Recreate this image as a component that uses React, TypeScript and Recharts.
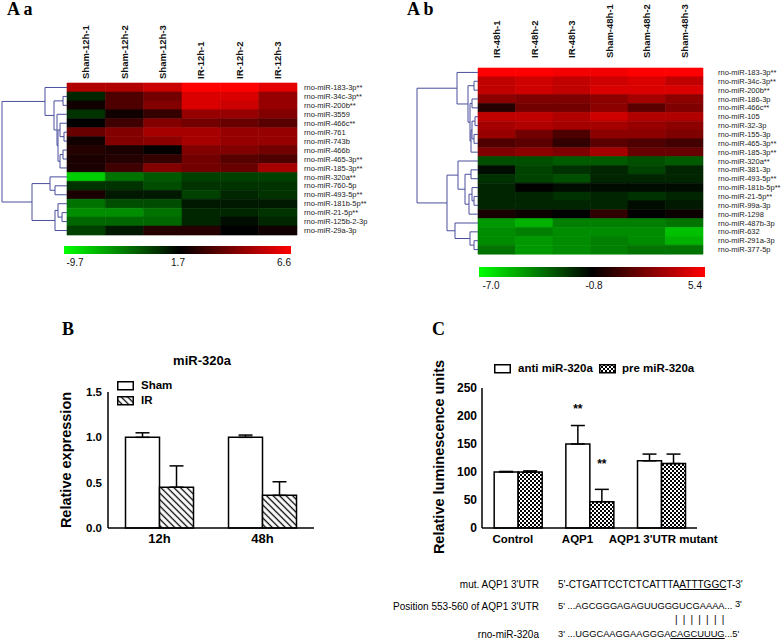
import React from 'react';
import { BarChart, Bar, XAxis, YAxis, Cell, ScatterChart, Scatter, ReferenceLine, ErrorBar, LabelList } from 'recharts';

const SANS = '"Liberation Sans", Arial, Helvetica, sans-serif';
const SERIF = '"Liberation Serif", "Times New Roman", serif';

// ---------------- Panel A a (12 h heatmap) ----------------
const aaColumns = ['Sham-12h-1', 'Sham-12h-2', 'Sham-12h-3', 'IR-12h-1', 'IR-12h-2', 'IR-12h-3'];
const aaRows = [
  'rno-miR-183-3p**', 'rno-miR-34c-3p**', 'rno-miR-200b**', 'rno-miR-3559', 'rno-miR-466c**',
  'rno-miR-761', 'rno-miR-743b', 'rno-miR-466b', 'rno-miR-465-3p**', 'rno-miR-185-3p**',
  'rno-miR-320a**', 'rno-miR-760-5p', 'rno-miR-493-5p**', 'rno-miR-181b-5p**', 'rno-miR-21-5p**',
  'rno-miR-125b-2-3p', 'rno-miR-29a-3p',
];
const aaValues = [
  [5.1, 5.1, 5.6, 6.6, 6.6, 6.1],
  [0.0, 3.2, 3.9, 5.9, 5.9, 4.6],
  [2.0, 3.2, 4.2, 5.9, 5.6, 4.6],
  [-0.6, 2.0, 2.7, 4.6, 4.6, 4.2],
  [1.7, 2.9, 4.2, 3.9, 3.7, 3.4],
  [3.7, 4.2, 4.9, 4.9, 4.6, 4.6],
  [2.0, 4.2, 4.4, 4.9, 4.6, 4.6],
  [2.4, 2.2, 1.8, 4.2, 4.2, 3.9],
  [2.2, 2.4, 2.7, 3.9, 3.4, 3.2],
  [2.2, 2.9, 4.2, 3.9, 3.7, 4.9],
  [-7.5, -3.4, -2.3, -1.2, -1.2, -1.2],
  [-0.6, -0.6, -1.7, -0.6, -0.6, -0.6],
  [2.2, 0.6, 0.6, -1.2, 0.0, -0.6],
  [-3.4, -1.7, -1.7, 0.6, 0.6, 0.6],
  [-4.6, -4.6, -3.4, 0.0, 0.0, -0.6],
  [-2.9, -2.9, -2.9, 0.0, 1.1, 0.0],
  [-1.2, 0.6, 2.4, 2.4, 1.7, 2.0],
];
const aaScale = [-9.7, 1.7, 6.6];
// [childA, childB, distance]; leaves 0..16, merged nodes numbered from 17
const aaLinkage = [
  [1, 2, 4], [5, 6, 3], [7, 8, 4], [4, 18, 7], [19, 9, 7], [20, 21, 9], [3, 22, 10],
  [17, 23, 13], [0, 24, 22],
  [11, 12, 12], [10, 26, 17], [14, 15, 5], [13, 28, 9], [29, 16, 12], [27, 30, 35],
  [25, 31, 65],
];

// ---------------- Panel A b (48 h heatmap) ----------------
const abColumns = ['IR-48h-1', 'IR-48h-2', 'IR-48h-3', 'Sham-48h-1', 'Sham-48h-2', 'Sham-48h-3'];
const abRows = [
  'rno-miR-183-3p**', 'rno-miR-34c-3p**', 'rno-miR-200b**', 'rno-miR-186-3p', 'rno-miR-466c**',
  'rno-miR-105', 'rno-miR-32-3p', 'rno-miR-155-3p', 'rno-miR-465-3p**', 'rno-miR-185-3p**',
  'rno-miR-320a**', 'rno-miR-381-3p', 'rno-miR-493-5p**', 'rno-miR-181b-5p**', 'rno-miR-21-5p**',
  'rno-miR-99a-3p', 'rno-miR-1298', 'rno-miR-487b-3p', 'rno-miR-632', 'rno-miR-291a-3p', 'rno-miR-377-5p',
];
const abValues = [
  [5.4, 5.4, 5.1, 5.1, 5.4, 5.4],
  [3.9, 4.2, 3.9, 4.2, 4.5, 3.9],
  [3.9, 4.2, 3.9, 4.5, 4.5, 4.5],
  [2.6, 2.3, 2.3, 2.6, 3.2, 2.6],
  [0.1, 2.0, 2.0, 2.6, 1.4, 2.3],
  [3.9, 3.9, 3.5, 4.2, 3.5, 3.5],
  [3.2, 3.5, 3.2, 3.2, 2.9, 2.6],
  [2.9, 2.0, 1.1, 2.6, 2.6, 2.3],
  [1.1, 1.4, 0.4, 1.4, 1.1, 0.8],
  [2.3, 2.6, 2.3, 3.2, 1.7, 1.7],
  [-2.7, -2.7, -3.0, -3.0, -2.7, -3.0],
  [-1.1, -2.4, -2.0, -1.7, -2.4, -1.7],
  [-2.0, -2.4, -2.7, -1.7, -1.7, -1.7],
  [-1.7, -0.8, -1.1, -1.1, -1.1, -1.1],
  [-1.7, -1.7, -2.0, -1.7, -2.0, -1.7],
  [-1.7, -1.7, -1.7, -1.7, -1.1, -1.4],
  [-0.2, -0.5, -0.8, 0.4, -0.8, -0.5],
  [-4.5, -5.1, -3.9, -3.9, -3.9, -3.6],
  [-4.2, -3.9, -4.2, -4.2, -4.2, -5.5],
  [-4.2, -4.5, -4.2, -3.9, -4.2, -5.1],
  [-3.6, -4.5, -4.2, -3.9, -3.6, -3.6],
];
const abScale = [-7.0, -0.8, 5.4];
// leaves 0..20, merged nodes numbered from 21
const abLinkage = [
  [1, 2, 4], [5, 6, 3], [7, 8, 4], [3, 4, 6], [22, 23, 6], [25, 9, 7], [24, 26, 8],
  [21, 27, 10], [0, 28, 21],
  [14, 15, 4], [13, 30, 6], [31, 16, 9], [11, 12, 7], [33, 32, 13], [10, 34, 20],
  [19, 20, 4], [18, 36, 8], [17, 37, 23], [35, 38, 31],
  [29, 39, 61],
];

// ---------------- Panel B ----------------
const bCategories = ['12h', '48h'];
const bSham = [1.0, 1.0];
const bShamErr = [0.05, 0.025];
const bIR = [0.45, 0.36];
const bIRErr = [0.235, 0.15];
const bTicks = [0, 0.5, 1.0, 1.5];

// ---------------- Panel C ----------------
const cCategories = ['Control', 'AQP1', "AQP1 3'UTR mutant"];
const cAnti = [100, 150, 120];
const cAntiErr = [1, 33, 12];
const cPre = [100, 47, 115];
const cPreErr = [2, 22, 17];
const cAntiSig = ['', '**', ''];
const cPreSig = ['', '**', ''];
const cAntiSigAt = [0, 205, 0];
const cPreSigAt = [0, 107, 0];
const cTicks = [0, 50, 100, 150, 200, 250];
const cTickShift = [-5, -12, 2];

function heatColor(v: number, scale: number[]) {
  const [lo, mid, hi] = scale;
  if (v >= mid) {
    const t = Math.min(1, (v - mid) / (hi - mid));
    return `rgb(${Math.round(255 * t)},0,0)`;
  }
  const t = Math.min(1, (mid - v) / (mid - lo));
  return `rgb(0,${Math.round(255 * t)},0)`;
}

function Heatmap(props: any) {
  const { columns, rows, values, scale, linkage, box, plot, xAxisH, yAxisW, colGap, rowGap, dendroLeft, maxHeight } = props;
  const data = rows.map((name: string) => {
    const o: any = { name };
    columns.forEach((_: string, j: number) => { o['c' + j] = 1; });
    return o;
  });
  const nodes: any[] = rows.map((_: string, i: number) => ({ h: 0, y: i + 0.5 }));
  const segs: any[] = [];
  linkage.forEach(([a, b, h]: number[]) => {
    const A = nodes[a];
    const B = nodes[b];
    segs.push([[A.h, A.y], [h, A.y]], [[B.h, B.y], [h, B.y]], [[h, A.y], [h, B.y]]);
    nodes.push({ h, y: (A.y + B.y) / 2 });
  });
  const colTick = (p: any) => {
    const idx = Math.floor(p.payload.value);
    return (
      <text transform={`translate(${p.x},${p.y}) rotate(-90)`} textAnchor="start" dy="0.35em"
        fontSize={9.5} fontWeight="bold" fill="#111" fontFamily={SANS}>{columns[idx]}</text>
    );
  };
  const rowTick = (p: any) => (
    <text x={p.x} y={p.y} dy="0.35em" textAnchor="start" fontSize={7.5} fill="#222" fontFamily={SANS}>{p.payload.value}</text>
  );
  return (
    <>
      <div style={{ position: 'absolute', left: box.left, top: box.top }}>
        <BarChart width={box.width} height={box.height} layout="vertical" data={data} barCategoryGap={0} barGap={0}
          margin={{ top: plot.top - xAxisH, left: plot.left, right: box.width - plot.right - yAxisW, bottom: box.height - plot.bottom }}>
          <XAxis type="number" orientation="top" domain={[0, columns.length]} ticks={columns.map((_: string, j: number) => j + 0.5)}
            height={xAxisH} axisLine={false} tickLine={false} tickSize={0} tickMargin={colGap} interval={0} tick={colTick} allowDecimals />
          <YAxis type="category" dataKey="name" orientation="right" width={yAxisW} axisLine={false} tickLine={false}
            tickSize={0} tickMargin={rowGap} interval={0} tick={rowTick} />
          {columns.map((c: string, j: number) => (
            <Bar key={c} dataKey={'c' + j} stackId="heat" isAnimationActive={false}>
              {rows.map((r: string, i: number) => {
                const col = heatColor(values[i][j], scale);
                return <Cell key={r} fill={col} stroke={col} strokeWidth={0.6} />;
              })}
            </Bar>
          ))}
        </BarChart>
      </div>
      <div style={{ position: 'absolute', left: box.left + dendroLeft, top: box.top }}>
        <ScatterChart width={plot.left - dendroLeft} height={box.height}
          margin={{ top: plot.top, bottom: box.height - plot.bottom, left: 0, right: 0 }}>
          <XAxis type="number" dataKey="h" domain={[0, maxHeight]} reversed hide allowDataOverflow />
          <YAxis type="number" dataKey="y" domain={[0, rows.length]} reversed hide allowDataOverflow />
          <Scatter data={nodes.slice(0, rows.length)} isAnimationActive={false} shape={() => <g />} />
          {segs.map((s: any, k: number) => (
            <ReferenceLine key={k} segment={[{ x: s[0][0], y: s[0][1] }, { x: s[1][0], y: s[1][1] }]}
              stroke="#4a4f9e" strokeWidth={1} ifOverflow="visible" />
          ))}
        </ScatterChart>
      </div>
    </>
  );
}

function ColorBar(props: any) {
  const { left, top, width, height, midStop, scale, labelX, labelY } = props;
  return (
    <>
      <div style={{
        position: 'absolute', left, top, width, height,
        background: `linear-gradient(to right, #00ff00 0%, #000000 ${midStop}%, #ff0000 100%)`,
      }} />
      {scale.map((v: number, i: number) => (
        <div key={i} style={{
          position: 'absolute', left: labelX[i] - 20, top: labelY - 6, width: 40, textAlign: 'center',
          fontSize: 10, lineHeight: '12px', fontFamily: SANS, color: '#111',
        }}>{v.toFixed(1)}</div>
      ))}
    </>
  );
}

function starLabel(p: any, values: number[], at: number[]) {
  const vb = p.viewBox || {};
  const x = p.x ?? vb.x;
  const y = p.y ?? vb.y;
  const w = p.width ?? vb.width;
  const h = p.height ?? vb.height;
  const i = p.index;
  if (!p.value) return null;
  const bottom = y + h;
  const yy = bottom - at[i] * (h / values[i]);
  return (
    <text x={x + w / 2} y={yy} textAnchor="middle" fontSize={12} fontWeight="bold" fill="#000" fontFamily={SANS}>{p.value}</text>
  );
}

const bData = bCategories.map((c, i) => ({ cat: c, sham: bSham[i], shamErr: [0, bShamErr[i]], ir: bIR[i], irErr: [0, bIRErr[i]] }));
const cData = cCategories.map((c, i) => ({
  cat: c, anti: cAnti[i], antiErr: [0, cAntiErr[i]], pre: cPre[i], preErr: [0, cPreErr[i]],
  antiSig: cAntiSig[i], preSig: cPreSig[i],
}));

function Txt(props: any) {
  const { x, y, children, size = 10, bold = false, anchor = 'left', serif = false, style = {} } = props;
  const st: any = {
    position: 'absolute', top: y - size * 0.6, fontSize: size, lineHeight: `${size * 1.2}px`,
    fontWeight: bold ? 'bold' : 'normal', fontFamily: serif ? SERIF : SANS, color: '#000', whiteSpace: 'pre', ...style,
  };
  if (anchor === 'left') st.left = x;
  else if (anchor === 'right') st.right = 784 - x;
  else { st.left = x; st.transform = 'translateX(-50%)'; }
  return <div style={st}>{children}</div>;
}

function Swatch(props: any) {
  const { x, y, fill } = props;
  return (
    <svg style={{ position: 'absolute', left: x, top: y }} width={17} height={10}>
      <rect x={0.75} y={0.75} width={15.5} height={8} fill={fill} stroke="#000" strokeWidth={1.5} />
    </svg>
  );
}

const letterStyle = (baseline: number) => ({ top: baseline - 14.1, lineHeight: '16px' });

export default function App() {
  const axisStyle = { stroke: '#000', strokeWidth: 1.5 };
  const cTick = (p: any) => (
    <text x={p.x + cTickShift[p.index]} y={p.y} dy="0.71em" textAnchor="middle" fontSize={11.5} fontWeight="bold"
      fill="#000" fontFamily={SANS}>{p.payload.value}</text>
  );
  return (
    <div style={{ position: 'absolute', left: 0, top: 0, width: 784, height: 644, background: '#fff', overflow: 'hidden', fontFamily: SANS }}>
      <svg width={0} height={0} style={{ position: 'absolute' }}>
        <defs>
          <pattern id="hatchB" patternUnits="userSpaceOnUse" width={4.6} height={4.6} patternTransform="rotate(-45)">
            <rect width={4.6} height={4.6} fill="#fff" />
            <line x1={2.3} y1={0} x2={2.3} y2={4.6} stroke="#000" strokeWidth={1.3} />
          </pattern>
          <pattern id="checkC" patternUnits="userSpaceOnUse" width={4} height={4}>
            <rect width={4} height={4} fill="#fff" />
            <rect x={0} y={0} width={2} height={2} fill="#000" />
            <rect x={2} y={2} width={2} height={2} fill="#000" />
          </pattern>
        </defs>
      </svg>

      <Heatmap columns={aaColumns} rows={aaRows} values={aaValues} scale={aaScale} linkage={aaLinkage}
        box={{ left: 0, top: 0, width: 392, height: 320 }} plot={{ left: 67, top: 83, right: 297, bottom: 235 }}
        xAxisH={50} yAxisW={80} colGap={4} rowGap={7} dendroLeft={0} maxHeight={67} />
      <Heatmap columns={abColumns} rows={abRows} values={abValues} scale={abScale} linkage={abLinkage}
        box={{ left: 392, top: 0, width: 392, height: 320 }} plot={{ left: 86, top: 68, right: 311, bottom: 254 }}
        xAxisH={45} yAxisW={75} colGap={10} rowGap={15} dendroLeft={22} maxHeight={64} />

      <ColorBar left={64} top={246} width={227} height={8} midStop={51} scale={aaScale} labelX={[75, 178, 284]} labelY={263} />
      <ColorBar left={479} top={267} width={226} height={10} midStop={50} scale={abScale} labelX={[491, 594, 695]} labelY={286} />

      {/* Panel B */}
      <div style={{ position: 'absolute', left: 0, top: 330 }}>
        <BarChart width={392} height={314} data={bData} barCategoryGap="17%" barGap={0}
          margin={{ top: 62, left: 68, right: 78, bottom: 86 }}>
          <XAxis dataKey="cat" height={30} axisLine={axisStyle} tickLine={false} tickSize={0} tickMargin={6}
            tick={{ fontSize: 13, fontWeight: 'bold', fill: '#000', fontFamily: SANS }} />
          <YAxis type="number" domain={[0, 1.5]} ticks={bTicks} width={40} axisLine={axisStyle} tickLine={false}
            tickSize={0} tickMargin={6} tickFormatter={(v: number) => v.toFixed(1)}
            tick={{ fontSize: 11.5, fontWeight: 'bold', fill: '#000', fontFamily: SANS }} />
          <Bar dataKey="sham" fill="#fff" stroke="#000" strokeWidth={1.5} isAnimationActive={false}>
            <ErrorBar dataKey="shamErr" width={7} stroke="#000" strokeWidth={1.5} direction="y" />
          </Bar>
          <Bar dataKey="ir" fill="url(#hatchB)" stroke="#000" strokeWidth={1.5} isAnimationActive={false}>
            <ErrorBar dataKey="irErr" width={7} stroke="#000" strokeWidth={1.5} direction="y" />
          </Bar>
        </BarChart>
      </div>

      {/* Panel C */}
      <div style={{ position: 'absolute', left: 392, top: 330 }}>
        <BarChart width={392} height={314} data={cData} barCategoryGap="17%" barGap={0}
          margin={{ top: 58, left: 50, right: 87, bottom: 86 }}>
          <XAxis dataKey="cat" height={30} axisLine={axisStyle} tickLine={false} tickSize={0} tickMargin={7} interval={0}
            tick={cTick} />
          <YAxis type="number" domain={[0, 250]} ticks={cTicks} width={40} axisLine={axisStyle} tickLine={false}
            tickSize={0} tickMargin={5} tick={{ fontSize: 12, fontWeight: 'bold', fill: '#000', fontFamily: SANS }} />
          <Bar dataKey="anti" fill="#fff" stroke="#000" strokeWidth={1.5} isAnimationActive={false}>
            <ErrorBar dataKey="antiErr" width={7} stroke="#000" strokeWidth={1.5} direction="y" />
            <LabelList dataKey="antiSig" content={(p: any) => starLabel(p, cAnti, cAntiSigAt)} />
          </Bar>
          <Bar dataKey="pre" fill="url(#checkC)" stroke="#000" strokeWidth={1.5} isAnimationActive={false}>
            <ErrorBar dataKey="preErr" width={7} stroke="#000" strokeWidth={1.5} direction="y" />
            <LabelList dataKey="preSig" content={(p: any) => starLabel(p, cPre, cPreSigAt)} />
          </Bar>
        </BarChart>
      </div>

      {/* Panel letters */}
      <Txt x={7} y={9} size={18} bold serif style={letterStyle(15)}>A a</Txt>
      <Txt x={407} y={9} size={18} bold serif style={letterStyle(15)}>A b</Txt>
      <Txt x={62} y={329} size={18} bold serif style={letterStyle(335)}>B</Txt>
      <Txt x={432} y={329} size={18} bold serif style={letterStyle(335)}>C</Txt>

      {/* Panel B texts */}
      <Txt x={202} y={361} size={13} bold anchor="center">miR-320a</Txt>
      <div style={{
        position: 'absolute', left: 66, top: 460, transform: 'translate(-50%,-50%) rotate(-90deg)',
        fontSize: 14.5, fontWeight: 'bold', fontFamily: SANS, whiteSpace: 'nowrap', lineHeight: '16px',
      }}>Relative expression</div>
      <Swatch x={117} y={381} fill="#fff" />
      <Txt x={141} y={386} size={11.5} bold>Sham</Txt>
      <Swatch x={117} y={396} fill="url(#hatchB)" />
      <Txt x={141} y={401} size={11.5} bold>IR</Txt>

      {/* Panel C texts */}
      <div style={{
        position: 'absolute', left: 439, top: 457, transform: 'translate(-50%,-50%) rotate(-90deg)',
        fontSize: 14.5, fontWeight: 'bold', fontFamily: SANS, whiteSpace: 'nowrap', lineHeight: '16px',
      }}>Relative luminescence units</div>
      <Swatch x={494} y={364} fill="#fff" />
      <Txt x={518} y={369} size={11.5} bold>anti miR-320a</Txt>
      <Swatch x={599} y={364} fill="url(#checkC)" />
      <Txt x={622} y={369} size={11.5} bold>pre miR-320a</Txt>

      {/* Sequence alignment */}
      <Txt x={539} y={585} anchor="right">mut. AQP1 3'UTR</Txt>
      <Txt x={558} y={585}>5'-CTGATTCCTCTCATTTA<span style={{ textDecoration: 'underline' }}>ATTTGGC</span>T-3'</Txt>
      <Txt x={539} y={607} anchor="right">Position 553-560 of AQP1 3'UTR</Txt>
      <Txt x={558} y={607} size={9.3}>5' ...AGCGGGAGAGUUGGGUCGAAAA... <span style={{ position: 'relative', top: -2 }}>3'</span></Txt>
      <Txt x={675} y={620} style={{ letterSpacing: '1.2px' }}>{'| | | | | | |'}</Txt>
      <Txt x={539} y={635} anchor="right">rno-miR-320a</Txt>
      <Txt x={558} y={635} size={9.3}>3' ...UGGCAAGGAAGGGA<span style={{ textDecoration: 'underline' }}>CAGCUUUG</span>...5'</Txt>
    </div>
  );
}
